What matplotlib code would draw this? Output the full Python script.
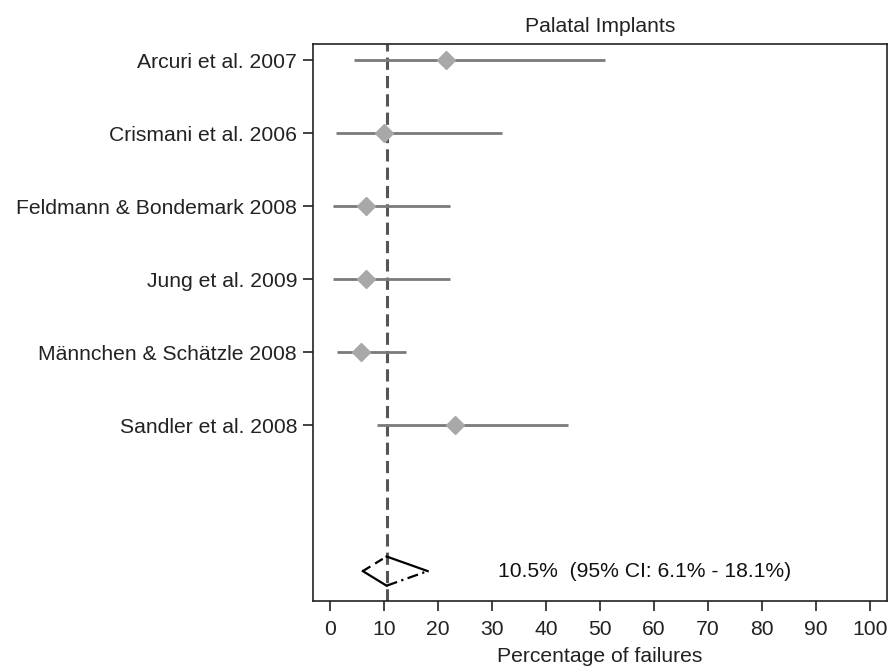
import matplotlib
matplotlib.use("Agg")
import matplotlib.pyplot as plt

plt.rcParams["font.family"] = ["Liberation Sans", "DejaVu Sans"]

# data
studies = ["Arcuri et al. 2007", "Crismani et al. 2006", "Feldmann & Bondemark 2008",
           "Jung et al. 2009", "Männchen & Schätzle 2008", "Sandler et al. 2008"]
estimate = [21.4, 10.0, 6.6, 6.6, 5.7, 23.2]
ci_low = [4.4, 1.1, 0.6, 0.6, 1.4, 8.8]
ci_high = [50.9, 31.8, 22.2, 22.2, 14.1, 44.1]
pooled = 10.5
pooled_low = 6.1
pooled_high = 18.1
pooled_text = "10.5%  (95% CI: 6.1% - 18.1%)"

FS = 15.2

fig = plt.figure(figsize=(8.92, 6.69), dpi=100)
ax = fig.add_axes([0.351, 0.1016, 0.6435, 0.8326])

ys = list(range(len(studies)))
y_sum = len(studies) + 1

# pooled estimate reference line
ax.axvline(pooled, color="#555555", linestyle=(0, (4, 2)), linewidth=2.2, zorder=1)

# CI bars + point estimates
for y, est, lo, hi in zip(ys, estimate, ci_low, ci_high):
    ax.plot([lo, hi], [y, y], color="#7a7a7a", linewidth=2.0, solid_capstyle="butt", zorder=2)
    ax.plot([est], [y], marker="D", markersize=9.5, color="#a8a8a8",
            markeredgecolor="#a8a8a8", linestyle="None", zorder=3)

# pooled diamond (4 edges, stata-ish mixed styles)
h = 0.2
left = (pooled_low, y_sum)
top = (pooled, y_sum - h)
right = (pooled_high, y_sum)
bottom = (pooled, y_sum + h)
edges = [(left, top, (0, (4, 2.5))), (top, right, "-"),
         (left, bottom, "-"), (bottom, right, (0, (5, 2, 1, 2)))]
for a, b, ls in edges:
    ax.plot([a[0], b[0]], [a[1], b[1]], color="black", linewidth=1.6, linestyle=ls, zorder=4)

ax.text(31.1, y_sum, pooled_text, va="center", ha="left", fontsize=FS, color="#111111")

ax.set_xlim(-3.1, 103.1)
ax.set_ylim(y_sum + 0.41, -0.22)
ax.set_xticks(range(0, 101, 10))
ax.set_yticks(ys)
ax.set_yticklabels(studies)
ax.tick_params(axis="both", direction="out", length=7.5, width=1.2, labelsize=FS,
               colors="#222222", pad=4)
ax.tick_params(axis="x", pad=6)
for sp in ax.spines.values():
    sp.set_linewidth(1.2)
    sp.set_color("#222222")

ax.set_xlabel("Percentage of failures", fontsize=FS, color="#222222", labelpad=6)
ax.set_title("Palatal Implants", fontsize=FS, color="#222222", pad=9)

fig.savefig("out.png", dpi=100)
